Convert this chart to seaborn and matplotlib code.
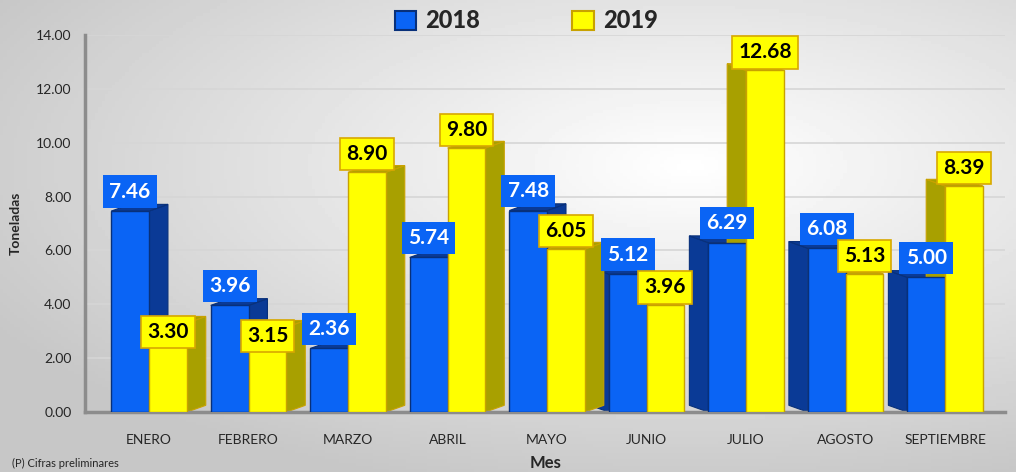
import numpy as np
import pandas as pd
import matplotlib.pyplot as plt
from matplotlib.patches import Polygon, Patch
import seaborn as sns

# ==========================================
# Data
# ==========================================
meses = ["ENERO", "FEBRERO", "MARZO", "ABRIL", "MAYO",
         "JUNIO", "JULIO", "AGOSTO", "SEPTIEMBRE"]
v2018 = [7.46, 3.96, 2.36, 5.74, 7.48, 5.12, 6.29, 6.08, 5.00]
v2019 = [3.30, 3.15, 8.90, 9.80, 6.05, 3.96, 12.68, 5.13, 8.39]
anios = ["2018", "2019"]

df = pd.DataFrame({
    "Mes": meses * 2,
    "Año": [anios[0]] * len(meses) + [anios[1]] * len(meses),
    "Toneladas": v2018 + v2019,
})

front = {"2018": "#0a64f5", "2019": "#ffff00"}
side = {"2018": "#0a3a96", "2019": "#a8a000"}
edge = {"2018": "#08307a", "2019": "#c8a200"}

sns.set_theme(style="white")
plt.rcParams["font.family"] = ["Lato", "DejaVu Sans"]

fig = plt.figure(figsize=(10.16, 4.72), dpi=100)

# background gradient
bg = fig.add_axes([0, 0, 1, 1], zorder=-10)
gx, gy = np.meshgrid(np.linspace(0, 1, 300), np.linspace(0, 1, 150))
dist = np.sqrt(((gx - 0.68) / 1.0) ** 2 + ((gy - 0.35) / 0.9) ** 2)
shade = np.clip(1.0 - 0.28 * dist, 0.78, 1.0)
bg.imshow(shade, cmap="gray", vmin=0, vmax=1, aspect="auto", extent=[0, 1, 0, 1])
bg.axis("off")

ax = fig.add_axes([0.084, 0.127, 0.905, 0.799])
ax.patch.set_alpha(0)

sns.barplot(data=df, x="Mes", y="Toneladas", hue="Año", palette=front,
            width=0.76, ax=ax, legend=False, saturation=1, zorder=3)

# ==========================================
# 3D-ish sides and value labels
# ==========================================
dx, dy = 0.19, 0.25
mid = (len(meses) - 1) / 2
for cont, anio in zip(ax.containers, anios):
    for bar in cont:
        x0 = bar.get_x()
        w = bar.get_width()
        h = bar.get_height()
        x1 = x0 + w
        cx = x0 + w / 2
        bar.set_edgecolor(edge[anio])
        bar.set_linewidth(1)
        if cx < mid + 0.6:
            pts_side = [(x1, 0), (x1 + dx, dy), (x1 + dx, h + dy), (x1, h)]
            pts_top = [(x0, h), (x0 + dx, h + dy), (x1 + dx, h + dy), (x1, h)]
        else:
            pts_side = [(x0, 0), (x0 - dx, dy), (x0 - dx, h + dy), (x0, h)]
            pts_top = [(x0, h), (x0 - dx, h + dy), (x1 - dx, h + dy), (x1, h)]
        ax.add_patch(Polygon(pts_side, closed=True, facecolor=side[anio],
                             edgecolor=edge[anio], lw=0.8, zorder=2))
        ax.add_patch(Polygon(pts_top, closed=True, facecolor=side[anio],
                             edgecolor=edge[anio], lw=0.8, zorder=2))

        if anio == "2018":
            ax.text(cx, h + 0.35, f"{h:.2f}", ha="center", va="bottom",
                    fontsize=15, fontweight="bold", color="white", zorder=6,
                    bbox=dict(boxstyle="square,pad=0.3", fc="#0a64f5", ec="none"))
        else:
            if h < 3.5:
                ty, va = h + 0.05, "top"
            else:
                ty, va = h + 0.3, "bottom"
            ax.text(cx, ty, f"{h:.2f}", ha="center", va=va,
                    fontsize=15, fontweight="bold", color="black", zorder=6,
                    bbox=dict(boxstyle="square,pad=0.3", fc="#ffff00", ec="#d8a800", lw=1.2))

# ==========================================
# Axes styling
# ==========================================
ax.set_xlim(-0.64, len(meses) - 0.4)
ax.set_ylim(0, 14)
ax.set_yticks(np.arange(0, 15, 2))
ax.set_yticklabels([f"{v:.2f}" for v in np.arange(0, 15, 2)], fontsize=10)
ax.set_xticks(range(len(meses)))
ax.set_xticklabels(meses, fontsize=10)
ax.set_xticks(np.arange(-0.5, len(meses)), minor=True)
ax.tick_params(axis="x", which="major", length=0, pad=16)
ax.tick_params(axis="x", which="minor", length=5, width=2, color="#8c8c8c", direction="out")
ax.tick_params(axis="y", length=4, width=1.5, color="#8c8c8c", direction="out", pad=6)
ax.yaxis.grid(True, color="#d6d6d6", lw=1.2, zorder=0)
ax.set_axisbelow(True)
for s in ["top", "right"]:
    ax.spines[s].set_visible(False)
for s in ["left", "bottom"]:
    ax.spines[s].set_color("#8c8c8c")
    ax.spines[s].set_linewidth(2.5)

ax.set_ylabel("Toneladas", fontsize=10, fontweight="bold", labelpad=10)
ax.set_xlabel("Mes", fontsize=12, fontweight="bold", labelpad=6)

handles = [Patch(facecolor=front[a], edgecolor=edge[a], lw=1.5) for a in anios]
fig.legend(handles, anios, loc="upper center", bbox_to_anchor=(0.518, 1.025),
           ncol=2, frameon=False, prop={"size": 17, "weight": "black"},
           columnspacing=3.9, handlelength=0.9, handleheight=0.9, handletextpad=0.4)

fig.text(0.012, 0.006, "(P) Cifras preliminares", fontsize=8, va="bottom", ha="left")

plt.savefig("out.png", dpi=100)
